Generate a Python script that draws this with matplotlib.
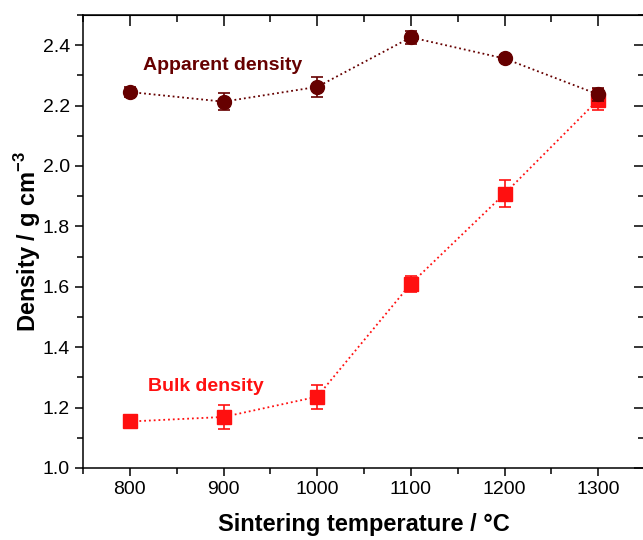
import matplotlib
matplotlib.use("Agg")
import matplotlib.pyplot as plt
from matplotlib.ticker import MultipleLocator

plt.rcParams['font.family'] = ['Liberation Sans', 'DejaVu Sans']
plt.rcParams['mathtext.fontset'] = 'custom'
plt.rcParams['mathtext.bf'] = 'Liberation Sans:bold'
plt.rcParams['mathtext.rm'] = 'Liberation Sans'

temps = [800, 900, 1000, 1100, 1200, 1300]
apparent = [2.245, 2.213, 2.262, 2.426, 2.356, 2.237]
apparent_err = [0.018, 0.028, 0.033, 0.022, 0.012, 0.022]
bulk = [1.154, 1.169, 1.236, 1.610, 1.908, 2.219]
bulk_err = [0.006, 0.040, 0.040, 0.027, 0.045, 0.035]

c_app = '#660000'
c_bulk = '#FF1010'

fig = plt.figure(figsize=(6.43, 5.40), dpi=100)
ax = fig.add_axes([83/643, 72/540, 562/643, 453/540])

ax.errorbar(temps, bulk, yerr=bulk_err, color=c_bulk, marker='s', ms=9.5,
            ls=':', lw=1.3, capsize=4, elinewidth=1.2, capthick=1.2, zorder=3)
ax.errorbar(temps, apparent, yerr=apparent_err, color=c_app, marker='o', ms=10,
            ls=':', lw=1.3, capsize=4, elinewidth=1.2, capthick=1.2, zorder=4)

ax.set_xlim(750, 1350)
ax.set_ylim(1.0, 2.5)
ax.xaxis.set_major_locator(MultipleLocator(100))
ax.xaxis.set_minor_locator(MultipleLocator(50))
ax.yaxis.set_major_locator(MultipleLocator(0.2))
ax.yaxis.set_minor_locator(MultipleLocator(0.1))
ax.yaxis.set_major_formatter(matplotlib.ticker.FormatStrFormatter('%.1f'))

ax.tick_params(which='both', direction='out', labelsize=14, width=1.1)
ax.tick_params(which='major', length=6)
ax.tick_params(which='minor', length=4)

for s in ax.spines.values():
    s.set_linewidth(1.1)

axt = ax.secondary_xaxis('top')
axt.xaxis.set_major_locator(MultipleLocator(100))
axt.xaxis.set_minor_locator(MultipleLocator(50))
axt.tick_params(which='both', direction='in', labeltop=False, width=1.1)
axt.tick_params(which='major', length=8)
axt.tick_params(which='minor', length=5)
axr = ax.secondary_yaxis('right')
axr.yaxis.set_major_locator(MultipleLocator(0.2))
axr.yaxis.set_minor_locator(MultipleLocator(0.1))
axr.tick_params(which='both', direction='in', labelright=False, width=1.1)
axr.tick_params(which='major', length=8)
axr.tick_params(which='minor', length=5)

ax.set_xlabel('Sintering temperature / °C', fontsize=17, fontweight='bold', labelpad=11)
ax.set_ylabel('Density / g cm$^{\\mathbf{-3}}$', fontsize=17, fontweight='bold', labelpad=0)

ax.text(814, 2.334, 'Apparent density', color=c_app, fontsize=14, fontweight='bold', va='center')
ax.text(819, 1.269, 'Bulk density', color=c_bulk, fontsize=14, fontweight='bold', va='center')

fig.savefig('out.png', dpi=100)
